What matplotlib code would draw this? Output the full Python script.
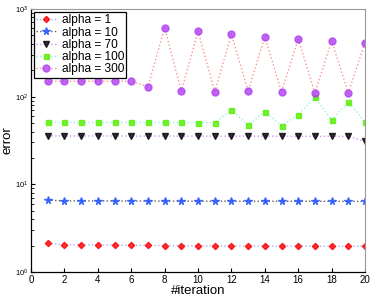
import numpy as np
import matplotlib.pyplot as plt

# --- Veriler ---
iters = list(range(1, 21))
err_a1 = [2.12, 2.05, 2.04, 2.04, 2.03, 2.02, 2.01, 2.0, 2.0, 1.99,
          1.99, 1.98, 1.98, 1.98, 1.98, 1.98, 1.97, 1.97, 1.97, 1.97]
err_a10 = [6.6, 6.48, 6.47, 6.47, 6.46, 6.45, 6.45, 6.44, 6.44, 6.43,
           6.43, 6.42, 6.42, 6.42, 6.41, 6.41, 6.41, 6.4, 6.4, 6.38]
err_a70 = [35.7, 35.6, 35.6, 35.6, 35.6, 35.5, 35.5, 35.5, 35.5, 35.5,
           35.4, 35.4, 35.4, 35.4, 35.4, 35.3, 35.3, 35.3, 35.2, 30.8]
err_a100 = [50.8, 50.8, 50.8, 50.8, 50.8, 50.8, 50.7, 50.7, 50.7, 50.6,
            50.2, 71, 47, 67.6, 46.4, 62, 99, 54, 86, 51.5]
err_a300 = [150, 150, 150, 150, 150, 150, 129, 613, 115, 557,
            114, 515, 115, 484, 113, 456, 110, 433, 110, 414]

series = [
    ("alpha = 1", err_a1, "D", "#ff0000", "#8899ff", 3.2),
    ("alpha = 10", err_a10, "*", "#2255ff", "#333333", 5.5),
    ("alpha = 70", err_a70, "v", "#000000", "#cc77ee", 5),
    ("alpha = 100", err_a100, "s", "#55ee00", "#77eedd", 3.6),
    ("alpha = 300", err_a300, "o", "#b040f0", "#ff7777", 5),
]

plt.rcParams['font.family'] = ['Liberation Sans', 'DejaVu Sans']
fig = plt.figure(figsize=(3.74, 2.97), dpi=100)
ax = fig.add_axes([0.083, 0.084, 0.893, 0.886])

for lab, y, m, c, lc, ms in series:
    ax.plot(iters, y, linestyle=':', color=lc, linewidth=1.0, alpha=0.8,
            marker=m, markersize=ms, markerfacecolor=c, markeredgecolor=c,
            label=lab)

ax.set_yscale('log')
ax.set_ylim(1, 1000)
ax.set_xlim(0, 20)
ax.set_xticks(range(0, 21, 2))
ax.tick_params(which='both', direction='in', labelsize=7, pad=2)
ax.tick_params(axis='y', labelsize=5.5)
ax.tick_params(which='major', length=3)
ax.tick_params(which='minor', length=1.8)
ax.set_xlabel("#iteration", fontsize=9.5, labelpad=0)
ax.set_ylabel("error", fontsize=9.5, labelpad=1)
for s in ['top', 'right']:
    ax.spines[s].set_color('#999999')
ax.spines['left'].set_linewidth(0.9)
ax.spines['bottom'].set_linewidth(0.9)

leg = ax.legend(loc='upper left', fontsize=8.6, frameon=True, fancybox=False,
                framealpha=1, edgecolor='black', borderpad=0.2,
                labelspacing=0.02, handlelength=1.6, handletextpad=0.5,
                borderaxespad=0.25)
leg.get_frame().set_linewidth(0.9)

plt.savefig("out.png", dpi=100)
